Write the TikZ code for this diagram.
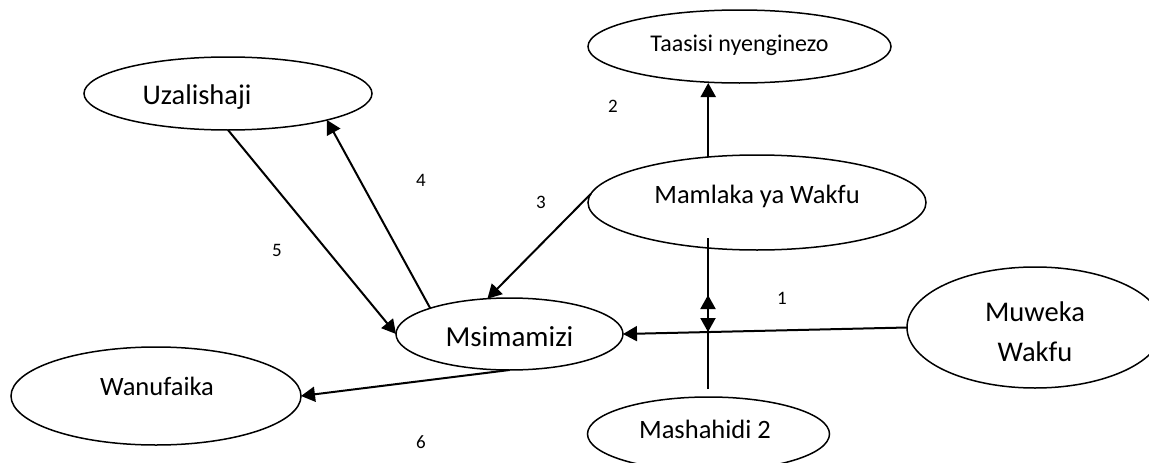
\documentclass[tikz,border=0pt]{standalone}
\usepackage{fontspec}
\setmainfont{Carlito}
\usetikzlibrary{shapes.geometric,arrows.meta}
\newcommand\ptxt[3]{\raisebox{#2}[0pt][0pt]{\makebox[0pt]{\kern#1\relax#3}}}
\begin{document}
\begin{tikzpicture}[x=1pt,y=-1pt,
  ell/.style={draw, ellipse, line width=1.5pt, inner sep=0pt, outer sep=0pt},
  arr/.style={line width=2pt, -{Triangle[length=14pt,width=15pt]}},
  num/.style={font=\fontsize{19}{19}\selectfont, anchor=base, inner sep=0pt}]
\useasboundingbox (0,0) rectangle (1149,463);
% ellipses
\node[ell, minimum width=288pt, minimum height=73pt, font=\fontsize{28.5}{30}\selectfont] (uz) at (228,93.5) {\ptxt{-62pt}{-10.5pt}{Uzalishaji}};
\node[ell, minimum width=303pt, minimum height=73pt, font=\fontsize{24}{26}\selectfont] (ta) at (739.5,46.5) {\ptxt{0pt}{-4.5pt}{Taasisi nyenginezo}};
\node[ell, minimum width=338pt, minimum height=95pt, font=\fontsize{26.5}{28}\selectfont] (ma) at (757,202.5) {\ptxt{0pt}{-1pt}{Mamlaka ya Wakfu}};
\node[ell, minimum width=227pt, minimum height=72pt, font=\fontsize{29}{31}\selectfont] (ms) at (509.5,334) {\ptxt{0pt}{-12pt}{Msimamizi}};
\node[ell, minimum width=256pt, minimum height=121pt, font=\fontsize{28.5}{30}\selectfont] (mu) at (1035,327.5) {\ptxt{0pt}{6.5pt}{Muweka}\ptxt{0pt}{-33.5pt}{Wakfu}};
\node[ell, minimum width=290pt, minimum height=98pt, font=\fontsize{26.5}{28}\selectfont] (wa) at (156,396) {\ptxt{2pt}{0.5pt}{Wanufaika}};
\node[ell, minimum width=242pt, minimum height=74pt, font=\fontsize{26.5}{28}\selectfont] (mh) at (708.5,434) {\ptxt{-7pt}{-4.5pt}{Mashahidi 2}};
% numbers
\node[num] (n1) at (782,304) {1};
\node[num] (n2) at (613,112) {2};
\node[num] (n3) at (541,208) {3};
\node[num] (n4) at (421,186) {4};
\node[num] (n5) at (277,256) {5};
\node[num] (n6) at (421,448) {6};
% connectors
\draw[arr] (ma.137) -- (ma.137 |- ta.south);
\draw[arr] (ma.177) -- (ms.122);
\draw[arr] (ms.162) -- (uz.345);
\draw[arr] (uz.south) -- (ms.west);
\draw[arr] (ms.south) -- (wa.east);
\draw[arr] (mu.west) -- (ms.east);
\coordinate (vtop) at (708,238);
\coordinate (vbot) at (708,389);
\coordinate (vup) at (708,295);
\coordinate (vcross) at (708,332);
\draw[arr] (vtop) -- (vcross);
\draw[arr] (vbot) -- (vup);
\end{tikzpicture}
\end{document}
